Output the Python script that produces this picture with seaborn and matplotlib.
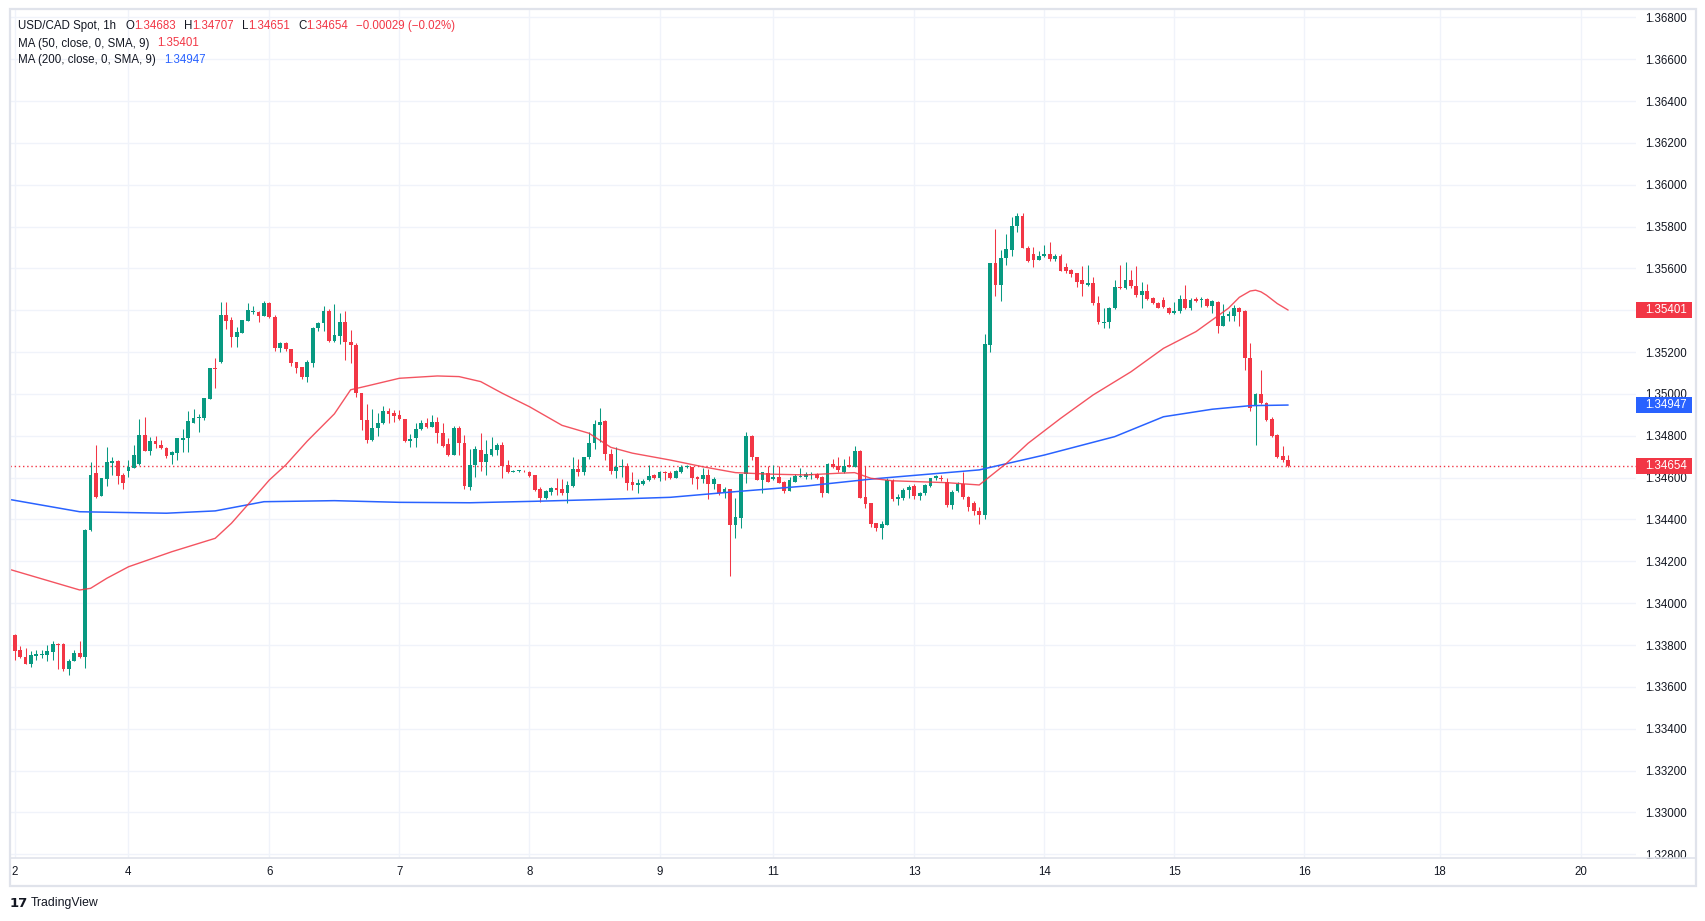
import numpy as np
import pandas as pd
import matplotlib
matplotlib.use("Agg")
import matplotlib.pyplot as plt
import matplotlib.transforms as mtransforms
from matplotlib.patches import Rectangle
from matplotlib.lines import Line2D
import seaborn as sns

# hourly USD/CAD candles, first bar is index -1 (cut by the left edge)
first_bar = -1
opens = [
    1.33822,
    1.33849, 1.33776, 1.33743, 1.33711, 1.33749, 1.33754, 1.33752, 1.33768, 1.33806, 1.33806,
    1.33685, 1.33725, 1.33763, 1.33741, 1.34350, 1.34621, 1.34512, 1.34595, 1.34671, 1.34680,
    1.34611, 1.34632, 1.34648, 1.34665, 1.34804, 1.34729, 1.34775, 1.34756, 1.34743, 1.34707,
    1.34719, 1.34781, 1.34789, 1.34863, 1.34884, 1.34887, 1.34976, 1.35124, 1.35154, 1.35377,
    1.35354, 1.35274, 1.35293, 1.35350, 1.35393, 1.35392, 1.35374, 1.35436, 1.35369, 1.35221,
    1.35245, 1.35215, 1.35153, 1.35127, 1.35083, 1.35150, 1.35314, 1.35338, 1.35397, 1.35253,
    1.35277, 1.35344, 1.35248, 1.35234, 1.35003, 1.34876, 1.34780, 1.34837, 1.34860, 1.34919,
    1.34907, 1.34899, 1.34880, 1.34775, 1.34788, 1.34831, 1.34860, 1.34843, 1.34867, 1.34812,
    1.34761, 1.34708, 1.34839, 1.34764, 1.34554, 1.34660, 1.34732, 1.34676, 1.34708, 1.34732,
    1.34756, 1.34659, 1.34628, 1.34632, 1.34634, 1.34628, 1.34613, 1.34547, 1.34504, 1.34533,
    1.34549, 1.34546, 1.34528, 1.34560, 1.34641, 1.34628, 1.34699, 1.34764, 1.34852, 1.34872,
    1.34713, 1.34633, 1.34649, 1.34656, 1.34581, 1.34566, 1.34570, 1.34589, 1.34613, 1.34597,
    1.34627, 1.34624, 1.34600, 1.34628, 1.34649, 1.34649, 1.34605, 1.34593, 1.34613, 1.34570,
    1.34570, 1.34525, 1.34546, 1.34374, 1.34408, 1.34617, 1.34799, 1.34697, 1.34589, 1.34624,
    1.34593, 1.34602, 1.34581, 1.34538, 1.34579, 1.34605, 1.34602, 1.34611, 1.34617, 1.34605,
    1.34528, 1.34664, 1.34656, 1.34628, 1.34659, 1.34652, 1.34729, 1.34509, 1.34477, 1.34382,
    1.34361, 1.34374, 1.34585, 1.34500, 1.34505, 1.34541, 1.34560, 1.34510, 1.34525, 1.34560,
    1.34597, 1.34600, 1.34581, 1.34470, 1.34536, 1.34568, 1.34509, 1.34480, 1.34440, 1.34420,
    1.35234, 1.35624, 1.35521, 1.35648, 1.35688, 1.35803, 1.35851, 1.35699, 1.35670, 1.35640,
    1.35659, 1.35667, 1.35643, 1.35659, 1.35605, 1.35592, 1.35576, 1.35545, 1.35521, 1.35529,
    1.35433, 1.35337, 1.35345, 1.35409, 1.35510, 1.35505, 1.35545, 1.35516, 1.35473, 1.35492,
    1.35457, 1.35433, 1.35449, 1.35412, 1.35386, 1.35398, 1.35454, 1.35409, 1.35452, 1.35449,
    1.35452, 1.35420, 1.35441, 1.35326, 1.35374, 1.35374, 1.35412, 1.35398, 1.35173, 1.34942,
    1.34998, 1.34955, 1.34879, 1.34804, 1.34703, 1.34683,
]
highs = [
    1.33850,
    1.33854, 1.33795, 1.33784, 1.33771, 1.33776, 1.33778, 1.33800, 1.33819, 1.33808, 1.33811,
    1.33732, 1.33776, 1.33819, 1.34356, 1.34675, 1.34756, 1.34600, 1.34746, 1.34699, 1.34682,
    1.34621, 1.34684, 1.34756, 1.34882, 1.34890, 1.34796, 1.34799, 1.34780, 1.34748, 1.34729,
    1.34790, 1.34831, 1.34920, 1.34927, 1.34904, 1.34981, 1.35126, 1.35170, 1.35440, 1.35440,
    1.35366, 1.35319, 1.35355, 1.35433, 1.35422, 1.35395, 1.35443, 1.35440, 1.35377, 1.35250,
    1.35247, 1.35217, 1.35155, 1.35129, 1.35162, 1.35322, 1.35346, 1.35420, 1.35405, 1.35428,
    1.35386, 1.35397, 1.35306, 1.35242, 1.35005, 1.34952, 1.34930, 1.34907, 1.34942, 1.34934,
    1.34923, 1.34923, 1.34882, 1.34807, 1.34860, 1.34876, 1.34884, 1.34898, 1.34888, 1.34860,
    1.34788, 1.34848, 1.34848, 1.34804, 1.34735, 1.34753, 1.34815, 1.34780, 1.34793, 1.34767,
    1.34772, 1.34684, 1.34636, 1.34636, 1.34636, 1.34633, 1.34615, 1.34554, 1.34541, 1.34557,
    1.34597, 1.34592, 1.34585, 1.34697, 1.34689, 1.34700, 1.34820, 1.34876, 1.34933, 1.34874,
    1.34737, 1.34745, 1.34689, 1.34669, 1.34628, 1.34592, 1.34595, 1.34660, 1.34617, 1.34633,
    1.34632, 1.34632, 1.34636, 1.34660, 1.34660, 1.34651, 1.34608, 1.34648, 1.34640, 1.34605,
    1.34572, 1.34554, 1.34548, 1.34504, 1.34619, 1.34820, 1.34804, 1.34700, 1.34628, 1.34656,
    1.34660, 1.34656, 1.34583, 1.34602, 1.34617, 1.34645, 1.34627, 1.34628, 1.34621, 1.34607,
    1.34669, 1.34689, 1.34697, 1.34688, 1.34703, 1.34753, 1.34732, 1.34656, 1.34479, 1.34384,
    1.34394, 1.34597, 1.34595, 1.34520, 1.34550, 1.34565, 1.34570, 1.34530, 1.34570, 1.34600,
    1.34612, 1.34615, 1.34600, 1.34540, 1.34580, 1.34628, 1.34512, 1.34490, 1.34460, 1.35287,
    1.35626, 1.35788, 1.35688, 1.35765, 1.35847, 1.35863, 1.35863, 1.35707, 1.35704, 1.35683,
    1.35712, 1.35726, 1.35671, 1.35671, 1.35627, 1.35595, 1.35578, 1.35612, 1.35616, 1.35561,
    1.35468, 1.35412, 1.35417, 1.35545, 1.35616, 1.35632, 1.35593, 1.35612, 1.35537, 1.35526,
    1.35465, 1.35441, 1.35462, 1.35417, 1.35438, 1.35473, 1.35521, 1.35457, 1.35462, 1.35462,
    1.35460, 1.35449, 1.35446, 1.35430, 1.35396, 1.35425, 1.35414, 1.35402, 1.35245, 1.35003,
    1.35115, 1.34962, 1.34888, 1.34808, 1.34751, 1.34707,
]
lows = [
    1.33815,
    1.33728, 1.33739, 1.33711, 1.33695, 1.33728, 1.33736, 1.33724, 1.33728, 1.33685, 1.33676,
    1.33658, 1.33725, 1.33736, 1.33689, 1.34345, 1.34504, 1.34510, 1.34561, 1.34613, 1.34570,
    1.34546, 1.34604, 1.34645, 1.34660, 1.34725, 1.34710, 1.34743, 1.34735, 1.34694, 1.34667,
    1.34684, 1.34724, 1.34722, 1.34860, 1.34818, 1.34875, 1.34974, 1.35027, 1.35150, 1.35310,
    1.35226, 1.35226, 1.35290, 1.35348, 1.35381, 1.35346, 1.35372, 1.35364, 1.35205, 1.35202,
    1.35205, 1.35134, 1.35099, 1.35071, 1.35059, 1.35130, 1.35301, 1.35301, 1.35250, 1.35250,
    1.35237, 1.35162, 1.35147, 1.34987, 1.34828, 1.34767, 1.34775, 1.34801, 1.34856, 1.34863,
    1.34867, 1.34876, 1.34772, 1.34748, 1.34745, 1.34828, 1.34836, 1.34840, 1.34764, 1.34748,
    1.34703, 1.34706, 1.34708, 1.34545, 1.34540, 1.34605, 1.34633, 1.34613, 1.34705, 1.34708,
    1.34600, 1.34621, 1.34625, 1.34628, 1.34625, 1.34605, 1.34538, 1.34485, 1.34499, 1.34517,
    1.34517, 1.34517, 1.34480, 1.34554, 1.34608, 1.34613, 1.34689, 1.34737, 1.34772, 1.34684,
    1.34617, 1.34597, 1.34605, 1.34541, 1.34541, 1.34525, 1.34565, 1.34584, 1.34592, 1.34584,
    1.34589, 1.34592, 1.34597, 1.34624, 1.34645, 1.34570, 1.34547, 1.34573, 1.34499, 1.34544,
    1.34517, 1.34501, 1.34130, 1.34313, 1.34358, 1.34576, 1.34684, 1.34587, 1.34528, 1.34579,
    1.34589, 1.34573, 1.34528, 1.34536, 1.34577, 1.34602, 1.34592, 1.34592, 1.34592, 1.34509,
    1.34526, 1.34647, 1.34628, 1.34621, 1.34650, 1.34650, 1.34502, 1.34453, 1.34365, 1.34346,
    1.34305, 1.34372, 1.34490, 1.34470, 1.34495, 1.34505, 1.34500, 1.34495, 1.34515, 1.34555,
    1.34590, 1.34585, 1.34460, 1.34450, 1.34530, 1.34500, 1.34440, 1.34420, 1.34380, 1.34400,
    1.35202, 1.35468, 1.35446, 1.35616, 1.35659, 1.35776, 1.35696, 1.35632, 1.35608, 1.35638,
    1.35655, 1.35636, 1.35636, 1.35587, 1.35580, 1.35561, 1.35513, 1.35468, 1.35515, 1.35425,
    1.35334, 1.35314, 1.35314, 1.35404, 1.35503, 1.35500, 1.35505, 1.35465, 1.35409, 1.35449,
    1.35428, 1.35410, 1.35412, 1.35383, 1.35381, 1.35386, 1.35404, 1.35400, 1.35441, 1.35417,
    1.35414, 1.35386, 1.35293, 1.35326, 1.35348, 1.35348, 1.35326, 1.35115, 1.34920, 1.34756,
    1.34950, 1.34873, 1.34796, 1.34692, 1.34676, 1.34651,
]
closes = [
    1.33847,
    1.33773, 1.33744, 1.33711, 1.33752, 1.33758, 1.33758, 1.33771, 1.33806, 1.33801, 1.33684,
    1.33724, 1.33763, 1.33744, 1.34350, 1.34611, 1.34509, 1.34598, 1.34675, 1.34681, 1.34608,
    1.34573, 1.34652, 1.34708, 1.34804, 1.34729, 1.34775, 1.34759, 1.34743, 1.34703, 1.34724,
    1.34788, 1.34788, 1.34871, 1.34885, 1.34890, 1.34979, 1.35124, 1.35118, 1.35377, 1.35350,
    1.35274, 1.35296, 1.35352, 1.35401, 1.35398, 1.35374, 1.35436, 1.35366, 1.35221, 1.35245,
    1.35213, 1.35150, 1.35126, 1.35083, 1.35153, 1.35314, 1.35341, 1.35397, 1.35253, 1.35282,
    1.35344, 1.35247, 1.35233, 1.35003, 1.34876, 1.34780, 1.34837, 1.34861, 1.34919, 1.34903,
    1.34896, 1.34879, 1.34777, 1.34783, 1.34832, 1.34863, 1.34843, 1.34867, 1.34812, 1.34753,
    1.34708, 1.34837, 1.34764, 1.34560, 1.34660, 1.34735, 1.34676, 1.34713, 1.34735, 1.34756,
    1.34656, 1.34628, 1.34633, 1.34634, 1.34630, 1.34608, 1.34541, 1.34504, 1.34536, 1.34552,
    1.34541, 1.34528, 1.34563, 1.34640, 1.34628, 1.34699, 1.34767, 1.34858, 1.34866, 1.34713,
    1.34633, 1.34649, 1.34656, 1.34576, 1.34566, 1.34573, 1.34585, 1.34608, 1.34597, 1.34627,
    1.34621, 1.34597, 1.34633, 1.34652, 1.34656, 1.34600, 1.34592, 1.34613, 1.34570, 1.34593,
    1.34525, 1.34546, 1.34374, 1.34413, 1.34617, 1.34799, 1.34697, 1.34589, 1.34625, 1.34581,
    1.34605, 1.34576, 1.34538, 1.34589, 1.34609, 1.34609, 1.34617, 1.34617, 1.34597, 1.34525,
    1.34665, 1.34649, 1.34636, 1.34657, 1.34652, 1.34727, 1.34504, 1.34474, 1.34377, 1.34361,
    1.34378, 1.34589, 1.34500, 1.34509, 1.34541, 1.34555, 1.34510, 1.34525, 1.34565, 1.34597,
    1.34608, 1.34595, 1.34470, 1.34530, 1.34568, 1.34509, 1.34460, 1.34440, 1.34420, 1.35239,
    1.35624, 1.35521, 1.35648, 1.35693, 1.35803, 1.35851, 1.35699, 1.35636, 1.35640, 1.35659,
    1.35667, 1.35643, 1.35659, 1.35589, 1.35589, 1.35572, 1.35537, 1.35524, 1.35529, 1.35433,
    1.35345, 1.35345, 1.35409, 1.35510, 1.35505, 1.35545, 1.35516, 1.35473, 1.35492, 1.35452,
    1.35433, 1.35412, 1.35417, 1.35386, 1.35398, 1.35454, 1.35409, 1.35449, 1.35446, 1.35452,
    1.35420, 1.35446, 1.35326, 1.35374, 1.35380, 1.35412, 1.35393, 1.35173, 1.34931, 1.34998,
    1.34955, 1.34876, 1.34799, 1.34700, 1.34683, 1.34654,
]

# moving averages at these bars
ma50_bar = [-1, 12, 14, 17, 21, 29, 37, 40, 43, 47, 50, 54, 59, 62, 65, 71, 78, 82, 86, 90,
            95, 101, 106, 110, 114, 121, 127, 133, 139, 146, 152, 155, 158, 162, 172, 178,
            183, 187, 193, 199, 206, 212, 218, 224, 226, 228, 229, 230, 231, 233, 235]
ma50_val = [1.34162, 1.34063, 1.34071, 1.34119, 1.34174, 1.34246, 1.34310, 1.34382, 1.34470,
            1.34589, 1.34660, 1.34775, 1.34905, 1.35020, 1.35038, 1.35075, 1.35086, 1.35083,
            1.35059, 1.35003, 1.34939, 1.34850, 1.34812, 1.34745, 1.34717, 1.34684, 1.34652,
            1.34624, 1.34617, 1.34613, 1.34621, 1.34624, 1.34597, 1.34585, 1.34576, 1.34565,
            1.34668, 1.34764, 1.34883, 1.34995, 1.35106, 1.35218, 1.35298, 1.35410, 1.35462,
            1.35492, 1.35496, 1.35488, 1.35472, 1.35432, 1.35401]
ma200_bar = [-1, 12, 28, 37, 46, 59, 71, 84, 96, 109, 121, 133, 146, 158, 162, 178, 190, 203,
             212, 221, 228, 235]
ma200_val = [1.34496, 1.34437, 1.34430, 1.34441, 1.34485, 1.34490, 1.34482, 1.34480, 1.34487,
             1.34496, 1.34506, 1.34533, 1.34560, 1.34593, 1.34602, 1.34637, 1.34708, 1.34796,
             1.34891, 1.34927, 1.34944, 1.34947]

day_bar = [0, 21, 47, 71, 95, 119, 140, 166, 190, 214, 238, 263, 289]
day_label = ["2", "4", "6", "7", "8", "9", "11", "13", "14", "15", "16", "18", "20"]
price_ticks = [1.328 + 0.002 * k for k in range(21)]

UP = "#089981"
DOWN = "#f23645"
BLUE = "#2962ff"
TXT = "#131722"
GRID = "#f0f3fa"
BORDER = "#e0e3eb"
FS = 8.3

sns.set_theme(style="white")
plt.rcParams["font.family"] = ["Liberation Sans", "DejaVu Sans"]

W, H = 1706, 921
fig = plt.figure(figsize=(W / 100, H / 100), dpi=100)
fig.patch.set_facecolor("white")
ax = fig.add_axes([10 / W, (H - 858) / H, (1636 - 10) / W, (858 - 9) / H])
ax.set_facecolor("white")

o = np.array(opens)
h = np.array(highs)
l = np.array(lows)
c = np.array(closes)
x = np.arange(first_bar, first_bar + len(o))
cols = np.where(c >= o, UP, DOWN)

ax.vlines(x, l, h, colors=cols, linewidth=0.75, zorder=3)
body_low = np.minimum(o, c)
body_h = np.maximum(np.abs(c - o), 0.00003)
ax.bar(x, body_h, bottom=body_low, width=0.7, color=cols, linewidth=0, zorder=3)

df50 = pd.DataFrame({"bar": ma50_bar, "value": ma50_val})
df200 = pd.DataFrame({"bar": ma200_bar, "value": ma200_val})
sns.lineplot(data=df200, x="bar", y="value", ax=ax, color=BLUE, linewidth=1.1,
             errorbar=None, legend=False, zorder=4)
sns.lineplot(data=df50, x="bar", y="value", ax=ax, color=DOWN, linewidth=1.0, alpha=0.85,
             errorbar=None, legend=False, zorder=4)

last = c[-1]
ax.axhline(last, color=DOWN, linewidth=1, linestyle=(0, (1, 2)), zorder=2)

ax.set_xlim(-0.867, 299.2)
ax.set_ylim(1.32782, 1.36840)
ax.set_xlabel("")
ax.set_ylabel("")
ax.set_xticks(day_bar)
ax.set_xticklabels(day_label)
ax.set_yticks(price_ticks)
ax.set_yticklabels([f"{v:.5f}" for v in price_ticks])
ax.yaxis.tick_right()
ax.tick_params(axis="y", length=0, pad=6.5, labelsize=FS, labelcolor=TXT)
ax.tick_params(axis="x", length=0, pad=5.5, labelsize=FS, labelcolor=TXT)
ax.grid(True, color=GRID, linewidth=1)
for side in ["top", "left", "right", "bottom"]:
    ax.spines[side].set_visible(False)

# price tags on the right scale
tr = mtransforms.blended_transform_factory(ax.transAxes, ax.transData)
px_w = 1.0 / (1636 - 10)
px_p = (1.36840 - 1.32782) / (858 - 9)


def price_tag(value, color):
    ax.add_patch(Rectangle((1.0, value - 8 * px_p), 56 * px_w, 16 * px_p, transform=tr,
                           facecolor=color, edgecolor="none", clip_on=False, zorder=6))
    ax.text(1.0 + 9 * px_w, value, f"{value:.5f}", transform=tr, ha="left", va="center",
            color="white", fontsize=FS, clip_on=False, zorder=7)


price_tag(ma50_val[-1], DOWN)
price_tag(ma200_val[-1], BLUE)
price_tag(last, DOWN)

# frame
fig.add_artist(Rectangle((10 / W, 1 - 886 / H), (1696 - 10) / W, (886 - 9) / H,
                         transform=fig.transFigure, fill=False, edgecolor=BORDER, linewidth=1.6))
fig.add_artist(Line2D([10 / W, 1696 / W], [1 - 858 / H, 1 - 858 / H],
                      transform=fig.transFigure, color=BORDER, linewidth=1.2))

# header legend
change = c[-1] - c[-2]
pct = change / c[-2] * 100


def fmt(v, d):
    s = f"{v:.{d}f}"
    return s.replace("-", "\u2212")


def chain(parts, x_px, base_px):
    prev = fig.text(x_px / W, 1 - base_px / H, parts[0][0], color=parts[0][1],
                    fontsize=FS, ha="left", va="baseline")
    for txt, color, gap in parts[1:]:
        prev = ax.annotate(txt, xy=(1, 0), xycoords=prev, xytext=(gap, 0),
                           textcoords="offset points", ha="left", va="bottom",
                           color=color, fontsize=FS, annotation_clip=False)


chain([("USD/CAD Spot, 1h", TXT, 0),
       ("O", TXT, 6.5), (f"{o[-1]:.5f}", DOWN, 0),
       ("H", TXT, 5.8), (f"{h[-1]:.5f}", DOWN, 0),
       ("L", TXT, 5.8), (f"{l[-1]:.5f}", DOWN, 0),
       ("C", TXT, 5.8), (f"{c[-1]:.5f}", DOWN, 0),
       (f"{fmt(change, 5)} ({fmt(pct, 2)}%)", DOWN, 5.8)], 18, 29)
chain([("MA (50, close, 0, SMA, 9)", TXT, 0), (f"{ma50_val[-1]:.5f}", DOWN, 5.8)], 18, 46.5)
chain([("MA (200, close, 0, SMA, 9)", TXT, 0), (f"{ma200_val[-1]:.5f}", BLUE, 5.8)], 18, 63)

# footer
fig.text(10 / W, 1 - 903 / H, "17", color=TXT, fontsize=9.5, fontweight="heavy",
         ha="left", va="center", family="DejaVu Sans")
fig.text(31 / W, 1 - 903 / H, "TradingView", color=TXT, fontsize=8.8, ha="left", va="center")

fig.savefig("out.png", dpi=100, facecolor="white")
